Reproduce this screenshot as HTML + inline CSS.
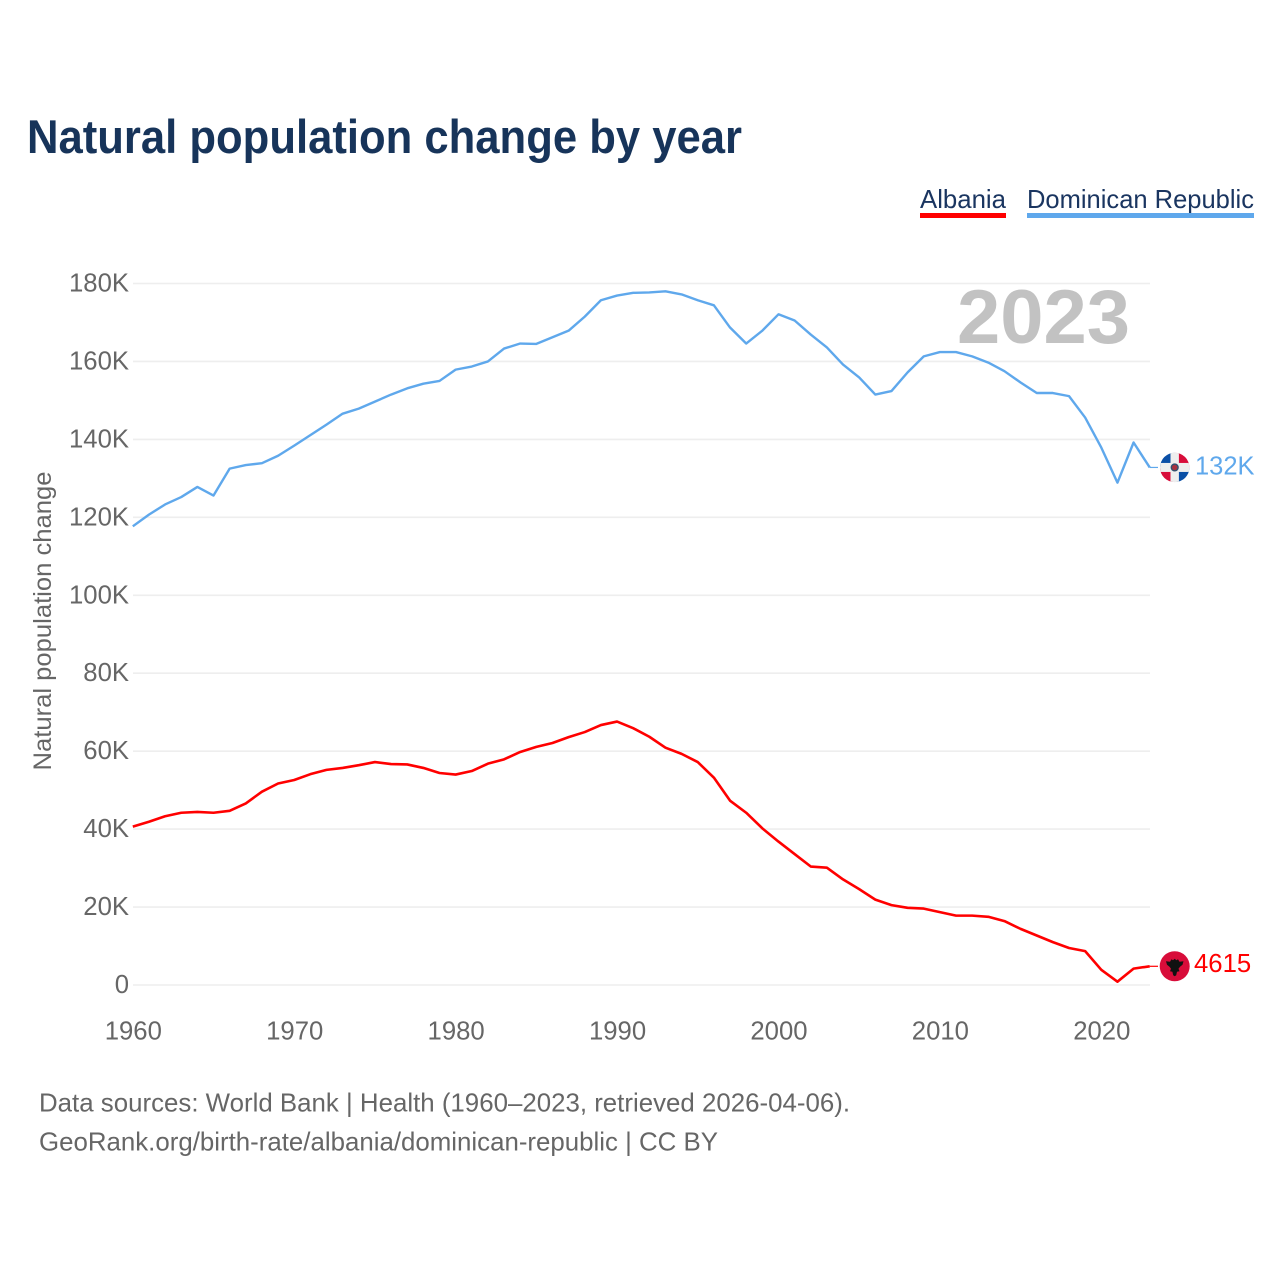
<!DOCTYPE html>
<html lang="en">
<head>
<meta charset="utf-8">
<title>Natural population change by year</title>
<style>
  html, body { margin: 0; padding: 0; background: #fff; }
  svg { display: block; font-family: "Liberation Sans", sans-serif; }
  .tick { font-size: 25.7px; fill: #666; }
</style>
</head>
<body>
<svg id="chart" width="1280" height="1280" viewBox="0 0 1280 1280" xmlns="http://www.w3.org/2000/svg">
  <rect width="1280" height="1280" fill="#fff"/>
  <text x="27" y="153" font-size="47" font-weight="700" fill="#17345a" textLength="715" lengthAdjust="spacingAndGlyphs">Natural population change by year</text>

  <g>
    <text x="920" y="208" font-size="26" fill="#1a3560" textLength="86" lengthAdjust="spacingAndGlyphs">Albania</text>
    <rect x="920" y="213" width="86" height="5" fill="#ff0000"/>
  </g>
  <g>
    <text x="1027" y="208" font-size="26" fill="#1a3560" textLength="227" lengthAdjust="spacingAndGlyphs">Dominican Republic</text>
    <rect x="1027" y="213" width="227" height="5" fill="#5fa8ec"/>
  </g>

  <g id="grid"></g>
  <g id="yticks"></g>
  <g id="xticks"></g>

  <text transform="translate(51,621) rotate(-90)" text-anchor="middle" font-size="25" fill="#666" textLength="299" lengthAdjust="spacingAndGlyphs">Natural population change</text>
  <text x="957" y="343" font-size="76" font-weight="700" fill="#c2c2c2" textLength="173" lengthAdjust="spacingAndGlyphs">2023</text>

  <g id="series"></g>

  <g id="flag-dr">
    <clipPath id="clip-dr"><circle cx="1174.7" cy="468.3" r="14.7"/></clipPath>
    <g clip-path="url(#clip-dr)">
      <rect x="1160" y="453.6" width="14.7" height="14.7" fill="#0a4fa6"/>
      <rect x="1174.7" y="453.6" width="14.7" height="14.7" fill="#d80d3a"/>
      <rect x="1160" y="468.3" width="14.7" height="14.7" fill="#d80d3a"/>
      <rect x="1174.7" y="468.3" width="14.7" height="14.7" fill="#0a4fa6"/>
      <rect x="1160" y="463.8" width="30" height="9" fill="#eeeeee"/>
      <rect x="1170.5" y="453" width="8.4" height="30" fill="#eeeeee"/>
      <circle cx="1174.7" cy="468.3" r="3.4" fill="#a8313f" stroke="#33506e" stroke-width="1.4"/>
    </g>
  </g>
  <g id="flag-al">
    <circle cx="1174.7" cy="966" r="15" fill="#d80d3a"/>
    <polygon fill="#111" points="1166,961 1170,961.5 1171.5,959 1173,960 1174.7,958.5 1176.4,960 1178,959 1179.5,961.5 1183.5,961 1182.5,964.5 1180,966.5 1178.5,968.5 1179.5,971 1177,971.5 1176.2,975 1174.7,976 1173.2,975 1172.4,971.5 1170,971 1171,968.5 1169.5,966.5 1167,964.5"/>
  </g>

  <g id="end-labels"></g>

  <text x="39" y="1111.5" font-size="26" fill="#666" textLength="811" lengthAdjust="spacingAndGlyphs">Data sources: World Bank | Health (1960–2023, retrieved 2026-04-06).</text>
  <text x="39" y="1150.5" font-size="26" fill="#666" textLength="679" lengthAdjust="spacingAndGlyphs">GeoRank.org/birth-rate/albania/dominican-republic | CC BY</text>
</svg>

<script>
const firstYear = 1960;
const xTickYears = [1960, 1970, 1980, 1990, 2000, 2010, 2020];
const yTickValues = [0, 20, 40, 60, 80, 100, 120, 140, 160, 180];
const yTickLabels = ['0', '20K', '40K', '60K', '80K', '100K', '120K', '140K', '160K', '180K'];
const albaniaValues = [
  40.65, 41.9, 43.3, 44.2, 44.4, 44.2, 44.7, 46.6, 49.6, 51.7,
  52.6, 54.1, 55.2, 55.7, 56.4, 57.2, 56.7, 56.6, 55.7, 54.4,
  54.0, 54.9, 56.8, 57.9, 59.8, 61.1, 62.1, 63.6, 64.9, 66.7,
  67.6, 65.9, 63.7, 60.9, 59.3, 57.2, 53.2, 47.3, 44.2, 40.2,
  36.8, 33.6, 30.4, 30.1, 27.1, 24.6, 21.9, 20.5, 19.8, 19.6,
  18.7, 17.8, 17.8, 17.5, 16.4, 14.4, 12.7, 11.0, 9.5, 8.7,
  3.9, 0.85, 4.2, 4.8
];
const dominicanValues = [
  117.7, 120.7, 123.3, 125.2, 127.8, 125.6, 132.5, 133.4, 133.9, 135.8,
  138.4, 141.1, 143.8, 146.6, 147.9, 149.7, 151.5, 153.1, 154.3, 155.0,
  157.9, 158.7, 160.0, 163.3, 164.6, 164.5, 166.2, 167.9, 171.5, 175.7,
  176.9, 177.6, 177.7, 178.0, 177.2, 175.7, 174.4, 168.7, 164.6, 167.9,
  172.1, 170.5, 166.9, 163.6, 159.2, 155.9, 151.5, 152.4, 157.2, 161.3,
  162.4, 162.4, 161.3, 159.7, 157.5, 154.6, 151.9, 151.9, 151.1, 145.6,
  137.9, 128.9, 139.2, 132.8
];
const albaniaEndLabel = '4615';
const dominicanEndLabel = '132K';

const SVG_NS = 'http://www.w3.org/2000/svg';
function xScale(year) { return 132.8 + (year - 1960) * (1101.3 - 132.8) / 60; }
function yScale(value) { return 985 - value * (985 - 283.5) / 180; }
function make(tag, parent, attrs) {
  const el = document.createElementNS(SVG_NS, tag);
  Object.keys(attrs).forEach(function (k) { el.setAttribute(k, attrs[k]); });
  parent.appendChild(el);
  return el;
}

const gridGroup = document.getElementById('grid');
const yTickGroup = document.getElementById('yticks');
yTickValues.forEach(function (v, i) {
  const line = make('line', gridGroup, { x1: 133, x2: 1150, y1: yScale(v), y2: yScale(v), stroke: '#eeeeee', 'stroke-width': 1.6 });
  
  
  const label = make('text', yTickGroup, { x: 129, y: yScale(v) + 8, 'text-anchor': 'end', class: 'tick' });
  
  
  label.textContent = yTickLabels[i];
});

const xTickGroup = document.getElementById('xticks');
xTickYears.forEach(function (year) {
  const label = make('text', xTickGroup, { x: xScale(year) + 0.5, y: 1039.5, 'text-anchor': 'middle', class: 'tick' });
  
  
  label.textContent = String(year);
});

function pathFor(values) {
  return values.map(function (v, i) {
    return (i ? 'L' : 'M') + xScale(firstYear + i).toFixed(2) + ' ' + yScale(v).toFixed(2);
  }).join(' ');
}

const seriesGroup = document.getElementById('series');

const dominicanLine = make('path', seriesGroup, { d: pathFor(dominicanValues), fill: 'none', stroke: '#5fa8ec', 'stroke-width': 2.4, 'stroke-linejoin': 'round' });



const albaniaLine = make('path', seriesGroup, { d: pathFor(albaniaValues), fill: 'none', stroke: '#ff0000', 'stroke-width': 2.6, 'stroke-linejoin': 'round' });



const dominicanEndY = yScale(dominicanValues[dominicanValues.length - 1]);
const albaniaEndY = yScale(albaniaValues[albaniaValues.length - 1]);

const dominicanTail = make('line', seriesGroup, { x1: xScale(2023), x2: 1158, y1: dominicanEndY, y2: dominicanEndY, stroke: '#5fa8ec', 'stroke-width': 1.2 });



const albaniaTail = make('line', seriesGroup, { x1: xScale(2023), x2: 1158, y1: albaniaEndY, y2: albaniaEndY, stroke: '#ff0000', 'stroke-width': 1.2 });



document.getElementById('flag-dr').setAttribute('transform', 'translate(0,' + (dominicanEndY - 468.3) + ')');
document.getElementById('flag-al').setAttribute('transform', 'translate(0,' + (albaniaEndY - 966) + ')');

const endGroup = document.getElementById('end-labels');

const dominicanValueLabel = make('text', endGroup, { x: 1195, y: dominicanEndY + 7, 'font-size': 25.5, fill: '#5fa8ec' });


dominicanValueLabel.textContent = dominicanEndLabel;

const albaniaValueLabel = make('text', endGroup, { x: 1194, y: albaniaEndY + 5.6, 'font-size': 25.7, fill: '#ff0000' });


albaniaValueLabel.textContent = albaniaEndLabel;
</script>
</body>
</html>
